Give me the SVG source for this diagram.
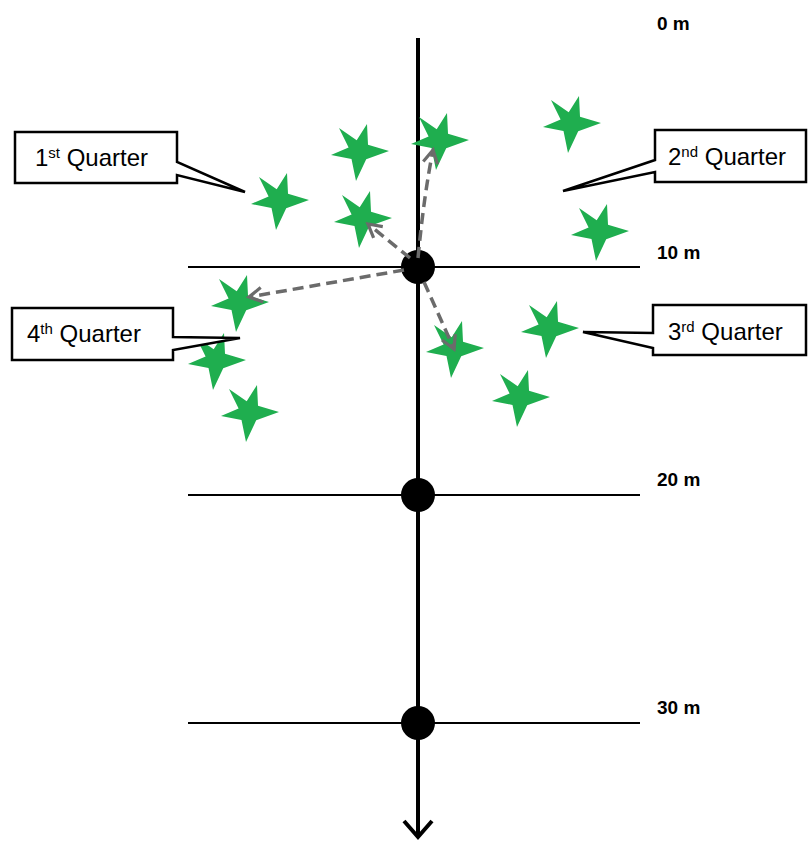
<svg xmlns="http://www.w3.org/2000/svg" width="808" height="841" viewBox="0 0 808 841">
  <defs>
    <style>
      .depth { stroke: #000; stroke-width: 2; fill: none; }
      .axis { stroke: #000; stroke-width: 4; fill: none; }
      .node { fill: #000; }
      .mark { font-family: "Liberation Sans", Arial, sans-serif; font-weight: bold; font-size: 19px; fill: #000; }
      .callout { fill: #fff; stroke: #000; stroke-width: 2.5; stroke-linejoin: miter; }
      .label { font-family: "Liberation Sans", Arial, sans-serif; font-size: 24px; fill: #000; }
      .sup { font-size: 15px; }
      .tree { fill: #1fae4f; }
      .walk { stroke: #6b6b6b; stroke-width: 3.5; stroke-dasharray: 11 6; fill: none; marker-end: url(#head); }
    </style>
    <marker id="head" viewBox="0 0 12 12" refX="10" refY="6" markerWidth="5" markerHeight="5" orient="auto" markerUnits="strokeWidth">
      <path d="M1,1 L10,6 L1,11" fill="none" stroke="#6b6b6b" stroke-width="2.2"/>
    </marker>
    <path id="star" d="M-20,-23 L-2.3,-10.8 L8,-27 L9,-6.3 L30,0 L7.2,8.3 L-3,30 L-7.5,8 L-28,4 L-10.4,-3.6 Z"/>
  </defs>

  <!-- depth lines, transect axis and sampling points -->
  <g id="transect">
    <line class="depth" x1="188" y1="267" x2="640" y2="267"/>
    <line class="depth" x1="188" y1="495" x2="640" y2="495"/>
    <line class="depth" x1="188" y1="723" x2="640" y2="723"/>
    <line class="axis" x1="418" y1="38" x2="418" y2="836"/>
    <path class="axis" d="M404,821 L418,837 L432,821"/>
    <circle class="node" cx="418" cy="267" r="17"/>
    <circle class="node" cx="418" cy="495" r="17"/>
    <circle class="node" cx="418" cy="723" r="17"/>
  </g>

  <g id="depth-marks">
    <text class="mark" x="657" y="30">0 m</text>
    <text class="mark" x="657" y="259">10 m</text>
    <text class="mark" x="657" y="486">20 m</text>
    <text class="mark" x="657" y="714">30 m</text>
  </g>

  <!-- trees -->
  <g id="trees">
    <use href="#star" class="tree" x="279" y="200"/>
    <use href="#star" class="tree" x="359" y="151"/>
    <use href="#star" class="tree" x="439" y="140"/>
    <use href="#star" class="tree" x="571" y="123"/>
    <use href="#star" class="tree" x="362" y="218"/>
    <use href="#star" class="tree" x="599" y="231"/>
    <use href="#star" class="tree" x="239" y="302"/>
    <use href="#star" class="tree" x="216" y="360"/>
    <use href="#star" class="tree" x="249" y="412"/>
    <use href="#star" class="tree" x="454" y="348"/>
    <use href="#star" class="tree" x="549" y="328"/>
    <use href="#star" class="tree" x="520" y="397"/>
  </g>

  <!-- nearest-tree distances from the 10 m point -->
  <g id="connectors">
    <path class="walk" d="M418,258 Q424,195 433,150"/>
    <line class="walk" x1="410" y1="258" x2="368" y2="224"/>
    <line class="walk" x1="404" y1="270" x2="249" y2="297"/>
    <line class="walk" x1="424" y1="282" x2="454" y2="349"/>
  </g>

  <!-- quarter callouts -->
  <g id="q1">
    <path class="callout" d="M15,132 H177 V162 L245,192 L177,175 V183 H15 Z"/>
    <text class="label" x="35" y="166">1<tspan class="sup" dy="-8">st</tspan><tspan dy="8"> Quarter</tspan></text>
  </g>
  <g id="q2">
    <path class="callout" d="M655,130 H806 V182 H655 V172 L563,191 L655,160 Z"/>
    <text class="label" x="668" y="165">2<tspan class="sup" dy="-8">nd</tspan><tspan dy="8"> Quarter</tspan></text>
  </g>
  <g id="q3">
    <path class="callout" d="M653,305 H806 V355 H653 V348 L583,332 L653,333 Z"/>
    <text class="label" x="668" y="340">3<tspan class="sup" dy="-8">rd</tspan><tspan dy="8"> Quarter</tspan></text>
  </g>
  <g id="q4">
    <path class="callout" d="M12,308 H173 V337 L240,338 L173,350 V360 H12 Z"/>
    <text class="label" x="27" y="342">4<tspan class="sup" dy="-8">th</tspan><tspan dy="8"> Quarter</tspan></text>
  </g>
</svg>
